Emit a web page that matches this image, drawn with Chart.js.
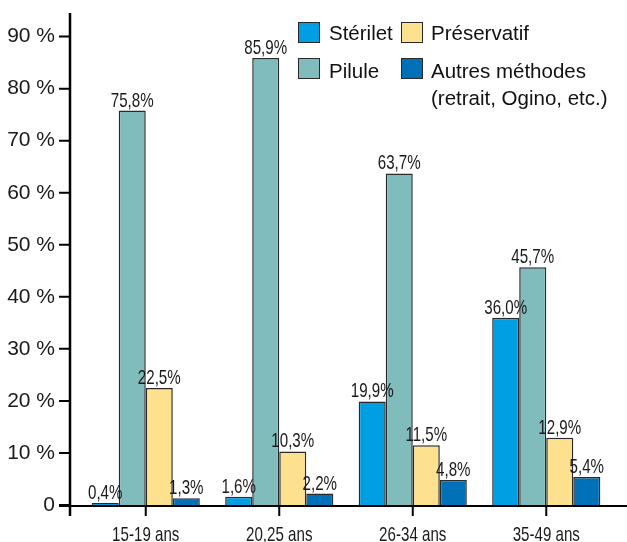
<!DOCTYPE html>
<html>
<head>
<meta charset="utf-8">
<script src="https://cdn.jsdelivr.net/npm/chart.js@4"></script>
<style>
    html, body { margin: 0; padding: 0; background: #fff; }
    #wrap { position: relative; width: 627px; height: 542px; }
    #chart { position: absolute; left: 0; top: 0; }
    .lg-box { position: absolute; width: 22px; height: 21px; box-sizing: border-box; border: 1.5px solid #2a2a2a; }
    .lg-text { position: absolute; font-family: "Liberation Sans", Arial, sans-serif; font-size: 20.5px; line-height: 27px; color: #111; white-space: nowrap; }
</style>
</head>
<body>
<div id="wrap">
    <canvas id="chart" width="627" height="542"></canvas>
    <div class="lg-box" style="left:298px; top:22px; background:#009fe3"></div>
    <div class="lg-text" style="left:329px; top:19px">Stérilet</div>
    <div class="lg-box" style="left:401px; top:22px; background:#fde18f"></div>
    <div class="lg-text" style="left:431px; top:19px">Préservatif</div>
    <div class="lg-box" style="left:298px; top:58px; background:#80bcbc"></div>
    <div class="lg-text" style="left:329px; top:57px">Pilule</div>
    <div class="lg-box" style="left:401px; top:58px; background:#0070b9"></div>
    <div class="lg-text" style="left:431px; top:57px">Autres méthodes<br>(retrait, Ogino, etc.)</div>
</div>
<script>
// data
const categories = ['15-19 ans', '20,25 ans', '26-34 ans', '35-49 ans'];
const seriesNames = ['Stérilet', 'Pilule', 'Préservatif', 'Autres méthodes (retrait, Ogino, etc.)'];
const sterilet = [0.4, 1.6, 19.9, 36.0];
const pilule = [75.8, 85.9, 63.7, 45.7];
const preservatif = [22.5, 10.3, 11.5, 12.9];
const autres = [1.3, 2.2, 4.8, 5.4];
const yTickValues = [0, 10, 20, 30, 40, 50, 60, 70, 80, 90];

const colors = ['#009fe3', '#80bcbc', '#fde18f', '#0070b9'];
const baseFont = "'Liberation Sans', Arial, sans-serif";

function fmtPct(v) {
    return v.toFixed(1).replace('.', ',') + '%';
}

// the print uses a condensed face, so squeeze the text horizontally
function condensedText(ctx, text, x, y) {
    ctx.save();
    ctx.translate(x, y);
    ctx.scale(0.72, 1);
    ctx.fillText(text, 0, 0);
    ctx.restore();
}

// axis lines drawn like the print version (y axis sits a bit left of the first group)
const axisLines = {
    id: 'axisLines',
    afterDatasetsDraw(chart) {
        const { ctx, chartArea, scales } = chart;
        const yx = chartArea.left - 9;
        const base = chartArea.bottom + 1;
        ctx.save();
        ctx.strokeStyle = '#000';
        ctx.lineWidth = 2;
        ctx.beginPath();
        scales.y.ticks.forEach(t => {
            const py = scales.y.getPixelForValue(t.value);
            ctx.moveTo(yx - 11, py);
            ctx.lineTo(yx, py);
        });
        ctx.moveTo(yx - 11, base);
        ctx.lineTo(chart.width, base);
        scales.x.ticks.forEach((t, i) => {
            const px = scales.x.getPixelForTick(i);
            ctx.moveTo(px, base);
            ctx.lineTo(px, base + 10);
        });
        ctx.stroke();
        ctx.lineWidth = 2.5;
        ctx.beginPath();
        ctx.moveTo(yx, 13);
        ctx.lineTo(yx, base + 10);
        ctx.stroke();

        // category labels
        ctx.font = '21px ' + baseFont;
        ctx.fillStyle = '#1a1a1a';
        ctx.textAlign = 'center';
        ctx.textBaseline = 'alphabetic';
        categories.forEach((c, i) => {
            condensedText(ctx, c, scales.x.getPixelForTick(i), chartArea.bottom + 36);
        });
        ctx.restore();
    }
};

const valueLabels = {
    id: 'valueLabels',
    afterDatasetsDraw(chart) {
        const ctx = chart.ctx;
        ctx.save();
        ctx.font = '21px ' + baseFont;
        ctx.fillStyle = '#1a1a1a';
        ctx.textAlign = 'center';
        ctx.textBaseline = 'alphabetic';
        chart.data.datasets.forEach((ds, i) => {
            const meta = chart.getDatasetMeta(i);
            meta.data.forEach((bar, j) => {
                condensedText(ctx, fmtPct(ds.data[j]), bar.x, bar.y - 4);
            });
        });
        ctx.restore();
    }
};

const seriesData = [sterilet, pilule, preservatif, autres];

new Chart(document.getElementById('chart').getContext('2d'), {
    type: 'bar',
    data: {
        labels: categories,
        datasets: seriesData.map((d, i) => ({
            label: seriesNames[i],
            data: d,
            backgroundColor: colors[i],
            borderColor: '#2a2a2a',
            borderWidth: 1.5,
            categoryPercentage: 0.81,
            barPercentage: 1
        }))
    },
    options: {
        responsive: false,
        animation: false,
        layout: { padding: { top: 24, right: 14, left: 0, bottom: 0 } },
        plugins: {
            legend: { display: false },
            tooltip: { enabled: false }
        },
        scales: {
            x: {
                grid: { display: false, drawTicks: false },
                border: { display: false },
                ticks: { display: false },
                afterFit(scale) { scale.height = 37; }
            },
            y: {
                min: 0,
                max: 90,
                grid: { display: false, drawTicks: false },
                border: { display: false },
                afterBuildTicks(scale) { scale.ticks = yTickValues.map(v => ({ value: v })); },
                ticks: {
                    color: '#1a1a1a',
                    font: { family: baseFont, size: 21 },
                    padding: 24,
                    callback: v => v === 0 ? '0' : v + ' %'
                },
                afterFit(scale) { scale.width = 79; }
            }
        }
    },
    plugins: [axisLines, valueLabels]
});
</script>
</body>
</html>
